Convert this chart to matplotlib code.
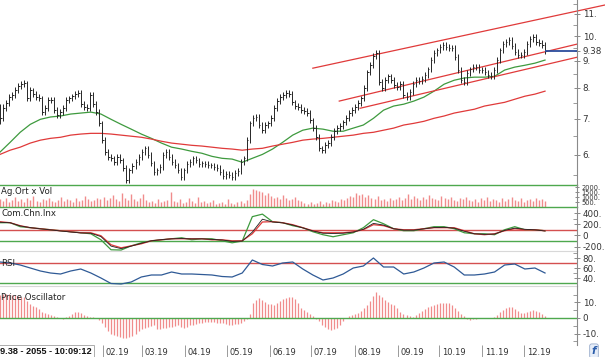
import numpy as np
import pandas as pd
import matplotlib
matplotlib.use('Agg')
import matplotlib.pyplot as plt
import matplotlib.dates as mdates
import matplotlib.ticker as mticker
from matplotlib.transforms import blended_transform_factory, offset_copy

# ---------------- data ----------------
first_date = '2018-11-19'
last_date = '2019-12-16'
view_left = '2018-11-19'
view_right = '2020-01-08'

close = [7.02, 7.33, 7.49, 7.69, 7.75, 7.92, 8.06, 8.13, 8.17, 7.65,
         7.92, 7.79, 7.69, 7.65, 7.21, 7.33, 7.59, 7.59, 7.27, 7.12,
         7.21, 7.33, 7.59, 7.65, 7.72, 7.79, 7.82, 7.46, 7.36, 7.33,
         7.75, 7.46, 7.21, 6.87, 6.39, 6.07, 5.94, 5.91, 5.81, 5.94,
         5.86, 5.66, 5.38, 5.61, 5.71, 5.81, 5.94, 6.07, 6.17, 5.99,
         5.78, 5.57, 5.61, 5.69, 5.99, 6.07, 5.94, 5.81, 5.73, 5.61,
         5.45, 5.61, 5.76, 5.81, 5.91, 5.86, 5.76, 5.78, 5.76, 5.73,
         5.73, 5.69, 5.66, 5.57, 5.47, 5.52, 5.50, 5.45, 5.54, 5.59,
         5.81, 5.91, 6.39, 6.87, 7.02, 7.06, 6.82, 6.67, 6.82, 6.87,
         7.02, 7.33, 7.56, 7.69, 7.75, 7.82, 7.79, 7.52, 7.40, 7.36,
         7.27, 7.24, 7.18, 6.96, 6.73, 6.47, 6.17, 6.12, 6.25, 6.31,
         6.47, 6.64, 6.73, 6.79, 6.90, 7.02, 7.18, 7.27, 7.36, 7.49,
         7.65, 8.00, 8.56, 8.82, 9.17, 9.29, 8.20, 8.00, 8.27, 8.41,
         8.27, 8.10, 8.03, 8.13, 7.75, 7.69, 7.86, 8.13, 8.27, 8.24,
         8.31, 8.45, 8.67, 9.02, 9.29, 9.41, 9.54, 9.62, 9.54, 9.50,
         9.50, 9.13, 8.64, 8.27, 8.20, 8.53, 8.67, 8.75, 8.75, 8.64,
         8.64, 8.56, 8.45, 8.41, 8.64, 9.02, 9.41, 9.66, 9.74, 9.83,
         9.58, 9.33, 9.21, 9.21, 9.33, 9.66, 9.87, 9.96, 9.74, 9.70,
         9.62, 9.38]
high = [7.45, 7.45, 7.60, 7.80, 7.86, 8.02, 8.16, 8.24, 8.28, 8.25,
        8.02, 8.00, 7.88, 7.78, 7.74, 7.42, 7.68, 7.68, 7.68, 7.36,
        7.30, 7.42, 7.68, 7.74, 7.81, 7.88, 7.92, 7.92, 7.55, 7.45,
        7.85, 7.85, 7.55, 7.30, 6.95, 6.47, 6.14, 6.01, 5.98, 6.01,
        6.01, 5.93, 5.73, 5.68, 5.78, 5.88, 6.01, 6.14, 6.24, 6.24,
        6.06, 5.85, 5.68, 5.76, 6.06, 6.14, 6.14, 6.01, 5.88, 5.80,
        5.68, 5.68, 5.83, 5.88, 5.98, 5.98, 5.93, 5.85, 5.85, 5.83,
        5.80, 5.80, 5.76, 5.73, 5.64, 5.59, 5.59, 5.57, 5.61, 5.66,
        5.88, 5.98, 6.47, 6.95, 7.11, 7.15, 7.15, 6.90, 6.90, 6.95,
        7.11, 7.42, 7.65, 7.78, 7.85, 7.92, 7.92, 7.88, 7.61, 7.49,
        7.45, 7.36, 7.33, 7.27, 7.04, 6.81, 6.55, 6.24, 6.33, 6.39,
        6.55, 6.72, 6.81, 6.87, 6.98, 7.11, 7.27, 7.36, 7.45, 7.58,
        7.74, 8.10, 8.66, 8.93, 9.28, 9.40, 9.40, 8.30, 8.37, 8.51,
        8.51, 8.37, 8.20, 8.23, 8.23, 7.85, 7.95, 8.23, 8.37, 8.37,
        8.41, 8.55, 8.77, 9.13, 9.40, 9.52, 9.65, 9.74, 9.74, 9.65,
        9.61, 9.61, 9.24, 8.74, 8.37, 8.63, 8.77, 8.86, 8.86, 8.86,
        8.74, 8.74, 8.66, 8.55, 8.74, 9.13, 9.52, 9.78, 9.86, 9.95,
        9.95, 9.69, 9.44, 9.32, 9.44, 9.78, 9.99, 10.08, 10.08, 9.86,
        9.82, 9.74]
low = [6.85, 6.95, 7.25, 7.40, 7.60, 7.66, 7.83, 7.97, 8.04, 7.56,
       7.56, 7.70, 7.60, 7.56, 7.12, 7.13, 7.24, 7.50, 7.18, 7.03,
       7.04, 7.12, 7.24, 7.50, 7.56, 7.63, 7.70, 7.37, 7.27, 7.24,
       7.24, 7.37, 7.12, 6.79, 6.31, 5.99, 5.87, 5.84, 5.74, 5.74,
       5.79, 5.59, 5.32, 5.32, 5.54, 5.64, 5.74, 5.87, 6.00, 5.92,
       5.71, 5.50, 5.50, 5.54, 5.62, 5.92, 5.87, 5.74, 5.66, 5.54,
       5.38, 5.38, 5.54, 5.69, 5.74, 5.79, 5.69, 5.69, 5.69, 5.66,
       5.66, 5.62, 5.59, 5.50, 5.40, 5.40, 5.43, 5.38, 5.38, 5.47,
       5.52, 5.74, 5.84, 6.31, 6.79, 6.93, 6.74, 6.59, 6.59, 6.74,
       6.79, 6.93, 7.24, 7.47, 7.60, 7.66, 7.70, 7.43, 7.31, 7.27,
       7.18, 7.15, 7.09, 6.88, 6.65, 6.39, 6.10, 6.05, 6.05, 6.18,
       6.23, 6.39, 6.56, 6.65, 6.71, 6.82, 6.93, 7.09, 7.18, 7.27,
       7.40, 7.56, 7.90, 8.46, 8.71, 9.06, 8.10, 7.90, 7.90, 8.17,
       8.17, 8.00, 7.93, 7.93, 7.66, 7.60, 7.60, 7.76, 8.03, 8.14,
       8.14, 8.21, 8.35, 8.57, 8.91, 9.18, 9.30, 9.43, 9.43, 9.39,
       9.39, 9.02, 8.54, 8.17, 8.10, 8.10, 8.43, 8.57, 8.65, 8.54,
       8.54, 8.46, 8.35, 8.31, 8.31, 8.54, 8.91, 9.30, 9.55, 9.62,
       9.47, 9.22, 9.10, 9.10, 9.10, 9.22, 9.55, 9.75, 9.62, 9.58,
       9.50, 9.27]

ma_fast = [6.07, 6.33, 6.61, 6.84, 6.99, 7.06, 7.09, 7.15, 7.18, 7.21,
           7.15, 6.99, 6.84, 6.70, 6.56, 6.44, 6.31, 6.20, 6.15, 6.09,
           6.04, 5.96, 5.91, 5.89, 5.81, 5.91, 6.01, 6.15, 6.33, 6.53,
           6.67, 6.73, 6.70, 6.64, 6.64, 6.73, 6.82, 7.02, 7.27, 7.40,
           7.46, 7.56, 7.69, 7.89, 8.13, 8.27, 8.35, 8.38, 8.38, 8.41,
           8.64, 8.75, 8.82, 8.90, 9.02]
ma_slow = [6.01, 6.12, 6.20, 6.31, 6.39, 6.44, 6.47, 6.53, 6.56, 6.58,
           6.58, 6.56, 6.53, 6.50, 6.47, 6.42, 6.36, 6.31, 6.28, 6.25,
           6.23, 6.20, 6.17, 6.15, 6.12, 6.15, 6.17, 6.23, 6.28, 6.33,
           6.39, 6.42, 6.44, 6.47, 6.50, 6.53, 6.58, 6.61, 6.67, 6.73,
           6.82, 6.87, 6.93, 7.02, 7.09, 7.18, 7.24, 7.30, 7.40, 7.46,
           7.52, 7.62, 7.72, 7.79, 7.89]

chan_upper_dates = ['2019-07-02', '2020-01-28']
chan_upper_vals = [8.71, 11.43]
chan_mid_dates = ['2019-07-21', '2020-01-08']
chan_mid_vals = [7.56, 9.66]
chan_low_dates = ['2019-08-05', '2020-01-08']
chan_low_vals = [7.33, 9.13]
last_price = 9.38

volume = [800, 600, 900, 500, 700, 1000, 600, 800, 500, 900, 700, 1100, 600, 500,
          800, 700, 900, 600, 500, 700, 1000, 600, 800, 700, 500, 900, 600, 700,
          1100, 800, 600, 700, 900, 800,
          1000, 700, 900, 1200, 800, 600, 1400, 900, 700, 1300, 800, 600, 900,
          1300, 700, 500, 600, 400, 800, 500, 600, 700, 1500, 600, 500, 800, 400,
          500, 900, 600, 400, 1000, 500, 600, 400, 500, 700, 300, 400, 500, 300,
          800, 400, 300, 500, 600, 400, 700,
          1300, 1800, 1700, 1600, 1500, 1200, 1400, 1100, 900, 1000, 800, 1200,
          900, 700, 800, 1000, 700, 600,
          400, 300, 500, 300, 400, 600, 300, 500, 400, 700, 600, 500, 800,
          700, 900, 1100, 1000, 1400, 1200, 1300, 1000, 1200, 900, 800, 1100,
          700, 800, 600, 900, 700,
          800, 1000, 700, 900, 1300, 800, 1100, 900, 700, 1000, 800, 1200, 900,
          800, 700, 1100, 900, 800, 1000, 700, 600, 900, 800, 1000, 700, 600,
          800, 500, 900, 700, 1000, 600, 800, 700, 500, 900, 600, 800, 1000,
          700, 600, 900, 500, 700, 800, 600, 900, 700, 800, 600]

cci_fast = [227, 227, 156, 138, 120, 102, 84, 66, 48, 30,
            -77, -255, -260, -185, -131, -95, -77, -59, -41, -77,
            -59, -59, -95, -131, -100, 335, 380, 245, 227, 174,
            138, 66, 13, -23, 13, 48, 138, 281, 209, 120,
            84, 84, 120, 156, 156, 120, 48, 30, 30, 13,
            102, 156, 102, 102, 84]
cci_slow = [245, 227, 174, 138, 120, 102, 84, 66, 48, 48,
            -5, -166, -220, -185, -149, -95, -77, -59, -59, -59,
            -59, -77, -77, -95, -95, 30, 240, 245, 227, 192,
            138, 84, 48, 48, 48, 66, 102, 192, 174, 120,
            102, 102, 120, 138, 138, 138, 84, 30, 13, 30,
            84, 120, 102, 102, 84]
cci_signal = [236, 227, 170, 140, 118, 100, 80, 62, 45, 40,
              -20, -190, -235, -190, -140, -95, -75, -60, -55, -62,
              -60, -70, -80, -105, -100, 60, 290, 240, 225, 185,
              135, 80, 40, 35, 40, 60, 110, 215, 185, 120,
              95, 95, 118, 140, 145, 130, 75, 30, 20, 25,
              90, 130, 110, 100, 80]

rsi = [72, 70, 66, 60, 54, 50, 48, 54, 58, 50,
       40, 29, 28, 32, 42, 46, 46, 52, 48, 48,
       47, 46, 43, 42, 50, 76, 67, 64, 70, 72,
       58, 46, 36, 40, 48, 60, 64, 80, 62, 62,
       48, 52, 60, 70, 72, 62, 46, 46, 48, 52,
       66, 68, 58, 60, 50]

price_osc = [15.0, 15.2, 15.3, 15.2, 15.0, 14.8, 14.2, 13.8, 13.2, 11.0,
             8.8, 7.8, 6.8, 5.5, 3.8, 3.0, 2.4, 1.8, 1.2, 0.6,
             0.0, -0.5, 0.4, 1.5, 2.8, 3.8, 3.9, 3.0, 2.0, 1.2,
             0.7, 0.4, 0.1, -1.0, -3.5, -6.0, -8.3, -10.0, -11.2, -11.8,
             -12.3, -12.6, -12.9, -12.5, -11.3, -10.0, -8.5, -7.4, -6.5, -5.8,
             -5.0, -4.6, -7.0, -7.4, -6.7, -6.3, -6.0, -5.6, -5.0, -4.6,
             -5.6, -6.4, -5.8, -4.8, -4.2, -3.8, -3.3, -3.1, -2.9, -2.7,
             -2.6, -2.8, -3.0, -3.2, -3.5, -3.9, -4.3, -4.5, -4.0, -3.6,
             -3.2, -2.2, -0.6, 2.5, 9.7, 11.5, 12.9, 11.6, 10.0, 9.2,
             8.7, 8.6, 9.8, 11.2, 12.2, 13.1, 13.5, 13.2, 12.4, 9.5,
             6.5, 5.0, 3.6, 2.3, 1.0, -0.4, -2.0, -4.3, -6.0, -7.0,
             -7.7, -7.3, -6.7, -4.5, -2.0, 0.0, 1.2, 2.2, 2.7, 3.2,
             4.8, 6.5, 8.6, 11.0, 14.0, 16.8, 15.0, 13.2, 11.8, 10.3,
             9.3, 8.4, 6.3, 4.0, 2.6, 1.8, 1.0, 0.8, 2.0, 3.2,
             4.4, 5.6, 6.9, 7.7, 8.5, 9.3, 9.8, 9.9, 9.8, 9.6,
             8.2, 6.5, 4.6, 2.6, 1.0, -0.5, -1.3, -0.9, -0.5, -0.2,
             0.0, -0.2, -0.3, -0.2, 0.6, 2.2, 3.8, 5.4, 6.6, 7.0,
             7.1, 5.6, 4.2, 3.5, 3.2, 3.8, 4.6, 5.2, 4.6, 3.9,
             2.8, 1.5]

price_ticks = [6, 7, 8, 9, 9.38, 10, 11]
price_tick_labels = ['6.', '7.', '8.', '9.', '9.38', '10.', '11.']
vol_ticks = [500, 1000, 1500, 2000]
vol_tick_labels = ['500.', '1000.', '1500.', '2000.']
cci_ticks = [-200, 0, 200, 400]
cci_tick_labels = ['-200.', '0', '200.', '400.']
rsi_ticks = [40, 60, 80]
rsi_tick_labels = ['40.', '60.', '80.']
po_ticks = [-10, 0, 10]
po_tick_labels = ['-10.', '0', '10.']
panel_names = ['Ag.Ort x Vol', 'Com.Chn.Inx', 'RSI', 'Price Oscillator']
status_text = '9.38 - 2055 - 10:09:12'
month_start = '2019-02-01'
month_end = '2019-12-01'

# ---------------- layout ----------------
W, H = 605.0, 357.0
fig = plt.figure(figsize=(W / 100, H / 100), dpi=100)
fig.patch.set_facecolor('white')
AXR = 577.0

def rect(top, bot):
    return [0, 1 - bot / H, AXR / W, (bot - top) / H]

ax_p = fig.add_axes(rect(0, 184.5))
ax_v = fig.add_axes(rect(184.5, 207), sharex=ax_p)
ax_c = fig.add_axes(rect(207, 251), sharex=ax_p)
ax_r = fig.add_axes(rect(251, 286), sharex=ax_p)
ax_o = fig.add_axes(rect(286, 345), sharex=ax_p)
axes = [ax_p, ax_v, ax_c, ax_r, ax_o]

t0 = mdates.date2num(pd.Timestamp(first_date))
t1 = mdates.date2num(pd.Timestamp(last_date))
xl = mdates.date2num(pd.Timestamp(view_left))
xr = mdates.date2num(pd.Timestamp(view_right))

def span(n):
    return np.linspace(t0, t1, n)

GREEN = '#4ea84e'
RED = '#e03a3a'
PINK = '#f08c8c'
AXC = '#8a8a8a'

for ax in axes:
    ax.set_facecolor('none')
    for s in ['left', 'top', 'bottom']:
        ax.spines[s].set_visible(False)
    ax.spines['right'].set_color(AXC)
    ax.spines['right'].set_linewidth(0.8)
    ax.yaxis.tick_right()
    ax.tick_params(axis='y', which='major', direction='inout', length=5, width=0.7,
                   color=AXC, labelcolor='#333333', labelsize=6.3, pad=1.5)
    ax.tick_params(axis='y', which='minor', direction='in', length=3, width=0.6, color=AXC)
    ax.tick_params(axis='x', which='both', bottom=False, labelbottom=False)

ax_p.set_xlim(xl, xr)

# ---- price panel ----
ax_p.set_yscale('log')
ax_p.set_ylim(5.28, 11.68)
xb = span(len(close))
ax_p.vlines(xb, low, high, color='#262626', lw=0.7, zorder=3)
ax_p.hlines(close, xb, xb + 1.1, color='#262626', lw=0.7, zorder=3)
xm = span(len(ma_fast))
ax_p.plot(xm, ma_fast, color='#3e9a3e', lw=0.9, zorder=2)
ax_p.plot(span(len(ma_slow)), ma_slow, color=RED, lw=0.9, zorder=2)
for d, v in [(chan_upper_dates, chan_upper_vals), (chan_mid_dates, chan_mid_vals),
             (chan_low_dates, chan_low_vals)]:
    ax_p.plot(mdates.date2num(pd.to_datetime(d)), v, color=RED, lw=0.9,
              clip_on=False, zorder=2)
ax_p.hlines(last_price, t1, xr, color='#2b4c9c', lw=1.3, zorder=3)
ax_p.yaxis.set_major_locator(mticker.FixedLocator(price_ticks))
ax_p.yaxis.set_major_formatter(mticker.FixedFormatter(price_tick_labels))
ax_p.yaxis.set_minor_locator(mticker.FixedLocator([5.5, 6.5, 7.5, 8.5, 9.5, 10.5, 11.5]))
ax_p.yaxis.set_minor_formatter(mticker.NullFormatter())
ax_p.spines['bottom'].set_visible(True)
ax_p.spines['bottom'].set_color(GREEN)
ax_p.spines['bottom'].set_linewidth(1.0)

# ---- volume panel ----
ax_v.set_ylim(0, 2250)
ax_v.vlines(span(len(volume)), 0, volume, color=PINK, lw=1.0)
ax_v.yaxis.set_major_locator(mticker.FixedLocator(vol_ticks))
ax_v.yaxis.set_major_formatter(mticker.FixedFormatter(vol_tick_labels))
ax_v.tick_params(axis='y', labelsize=4.8, length=3)
ax_v.spines['bottom'].set_visible(True)
ax_v.spines['bottom'].set_color(GREEN)
ax_v.spines['bottom'].set_linewidth(1.0)

# ---- CCI panel ----
ax_c.set_ylim(-277, 507)
ax_c.axhline(100, color='#d45050', lw=1.0)
ax_c.axhline(-100, color=GREEN, lw=1.0)
xc = span(len(cci_fast))
ax_c.plot(xc, cci_fast, color='#3e9a3e', lw=0.9)
ax_c.plot(span(len(cci_slow)), cci_slow, color=RED, lw=0.9)
ax_c.plot(span(len(cci_signal)), cci_signal, color='#202020', lw=0.6)
ax_c.yaxis.set_major_locator(mticker.FixedLocator(cci_ticks))
ax_c.yaxis.set_major_formatter(mticker.FixedFormatter(cci_tick_labels))
ax_c.yaxis.set_minor_locator(mticker.FixedLocator([-100, 100, 300]))
ax_c.spines['bottom'].set_visible(True)
ax_c.spines['bottom'].set_color('#d8d8d8')

# ---- RSI panel ----
ax_r.set_ylim(24, 94)
ax_r.axhline(70, color='#d45050', lw=1.0)
ax_r.axhline(30, color=GREEN, lw=1.0)
ax_r.plot(span(len(rsi)), rsi, color='#2f5a96', lw=0.9)
ax_r.yaxis.set_major_locator(mticker.FixedLocator(rsi_ticks))
ax_r.yaxis.set_major_formatter(mticker.FixedFormatter(rsi_tick_labels))
ax_r.yaxis.set_minor_locator(mticker.FixedLocator([30, 50, 70, 90]))
ax_r.spines['bottom'].set_visible(True)
ax_r.spines['bottom'].set_color('#d8d8d8')

# ---- Price oscillator ----
ax_o.set_ylim(-17.4, 20.6)
ax_o.vlines(span(len(price_osc)), 0, price_osc, color=PINK, lw=0.9)
ax_o.axhline(0, color=GREEN, lw=1.0)
ax_o.yaxis.set_major_locator(mticker.FixedLocator(po_ticks))
ax_o.yaxis.set_major_formatter(mticker.FixedFormatter(po_tick_labels))
ax_o.yaxis.set_minor_locator(mticker.FixedLocator([-15, -5, 5, 15]))

# month ticks and labels
months = pd.date_range(month_start, month_end, freq='MS')
mnum = mdates.date2num(months)
ax_o.xaxis.set_major_locator(mticker.FixedLocator(mnum))
ax_o.tick_params(axis='x', which='major', bottom=True, direction='out', length=12,
                 width=0.7, color='#9a9a9a', labelbottom=False)
btrans = offset_copy(blended_transform_factory(ax_o.transData, ax_o.transAxes),
                     fig=fig, x=2.5, y=0, units='dots')
for m, d in zip(mnum, months):
    ax_o.text(m, -7.5 / 59.0, d.strftime('%m.%y'), transform=btrans, ha='left',
              va='center', fontsize=6, color='#333333', clip_on=False)

# panel names
name_offsets = [(ax_v, -1.5), (ax_c, -1.5), (ax_r, -6), (ax_o, -5)]
for (ax, dy), name in zip(name_offsets, panel_names):
    ax.annotate(name, xy=(0, 1), xycoords='axes fraction', xytext=(1, dy),
                textcoords='offset points', ha='left', va='top', fontsize=6.2,
                color='#222222', zorder=5)

# status box
fig.text(0.5 / W, 1 - 351.5 / H, status_text, fontsize=6.6, fontweight='bold',
         family='Liberation Sans', color='#111111', ha='left', va='center',
         bbox=dict(boxstyle='square,pad=0.18', fc='white', ec='#a0a0a0', lw=0.6),
         zorder=10)
fig.text(594 / W, 1 - 351 / H, 'f', fontsize=7.5, fontweight='bold', style='italic',
         color='#2a5caa', ha='center', va='center',
         bbox=dict(boxstyle='round,pad=0.2', fc='#e6edf8', ec='#9aaccc', lw=0.6))

fig.savefig('out.png', dpi=100, facecolor='white')
